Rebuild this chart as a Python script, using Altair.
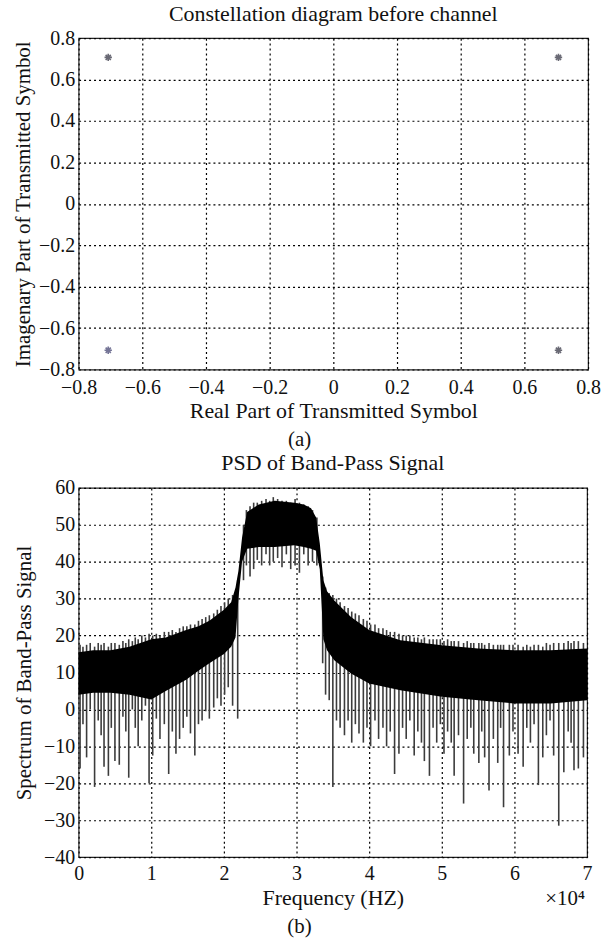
import altair as alt
import pandas as pd

SERIF = "Liberation Serif"

# ---------- (a) constellation ----------
real_part = [-0.707, 0.707, -0.707, 0.707]
imag_part = [0.707, 0.707, -0.707, -0.707]
pt_color = ["#2a2a3a", "#2a2a3a", "#3a3a6a", "#2a2a3a"]
ticks_a = [-0.8, -0.6, -0.4, -0.2, 0, 0.2, 0.4, 0.6, 0.8]

# ---------- (b) PSD (units of 10^4 Hz / dB) ----------
env_f = [0.00, 0.20, 0.44, 0.70, 1.00, 1.20, 1.48, 1.65, 1.80, 2.00, 2.10, 2.16, 2.20, 2.25, 2.32,
         2.48, 2.70, 2.97, 3.10, 3.20, 3.27, 3.32, 3.37, 3.42, 3.52, 3.75, 4.00, 4.43, 5.00, 5.50,
         6.00, 6.50, 7.00]
env_hi = [15.5, 16.0, 16.0, 17.0, 19.0, 19.5, 21.5, 22.5, 24.0, 27.0, 29.0, 33.0, 37.5, 46.5, 53.5,
          55.5, 56.5, 56.0, 55.5, 54.5, 52.0, 45.0, 35.0, 32.0, 29.5, 25.0, 21.5, 18.7, 17.4, 16.5,
          16.0, 16.0, 16.5]
env_lo = [4.0, 4.5, 4.5, 4.0, 2.7, 5.0, 8.0, 10.5, 12.5, 15.0, 17.0, 19.5, 30.0, 40.0, 43.5,
          44.0, 44.0, 44.5, 44.0, 43.5, 43.0, 38.0, 19.0, 16.0, 13.3, 9.7, 7.0, 5.2, 3.4, 2.5,
          1.6, 1.6, 2.5]

spike_f = [0.02, 0.06, 0.11, 0.16, 0.22, 0.27, 0.31, 0.35, 0.41, 0.45, 0.50, 0.56, 0.61, 0.65,
           0.69, 0.74, 0.78, 0.82, 0.87, 0.92, 0.97, 1.02, 1.07, 1.12, 1.18, 1.24, 1.29, 1.34,
           1.39, 1.44, 1.49, 1.54, 1.60, 1.65, 1.70, 1.75, 1.80, 1.86, 1.91, 1.96, 2.01, 2.06,
           2.12, 2.19,
           2.27, 2.31, 2.36, 2.41, 2.46, 2.52, 2.58, 2.63, 2.68, 2.74, 2.80, 2.86, 2.92, 2.98,
           3.04, 3.10, 3.16, 3.22, 3.28,
           3.36, 3.40, 3.45, 3.50, 3.55, 3.60, 3.66, 3.71, 3.76, 3.81, 3.86, 3.92, 3.97, 4.02,
           4.08, 4.13, 4.19, 4.24, 4.29, 4.35, 4.41, 4.46, 4.51, 4.56, 4.62, 4.67, 4.72, 4.76,
           4.83, 4.88, 4.93, 4.98, 5.03, 5.08, 5.13, 5.17, 5.23, 5.30, 5.35, 5.40, 5.44, 5.51,
           5.55, 5.59, 5.65, 5.71, 5.77, 5.81, 5.85, 5.93, 5.98, 6.05, 6.12, 6.17, 6.22, 6.27,
           6.33, 6.39, 6.44, 6.49, 6.54, 6.61, 6.68, 6.74, 6.78, 6.82, 6.88, 6.95]
spike_lo = [-16, -4, -13, 0, -21, -3, -7, -15.5, -18, -5, -14, -15, -2, -6,
            -18.5, 0, -5, -10, -3, 1, -20, -12.5, -2.5, -8, -4, -17.5, -6, -12,
            -8, -5, -2, -6.5, -12.5, -4, -3, -0.5, -2.5, 0.5, 3, 1, 4, 6,
            1, -2.5,
            35, 39, 36, 38, 40.5, 39, 42, 39, 40, 41, 38.5, 42, 38, 39,
            37, 42, 39, 40, 39,
            12.5, 4, 2.5, -21, -3, -5, -7, -3, -9, -4, -6.5, -9, -5, -10,
            -3, -8, -5, -10, -6, -17.5, -12, -5, -8, -3, -12.5, -6, -9, -14,
            -18, -5, -9, -4, -12, -6, -9, -18, -7, -25.5, -8, -5, -12, -14.5,
            -6, -13, -22, -8, -14.5, -5, -26.5, -12.5, -6, -12, -15.5, -5, -9, -4,
            -20.5, -13, -7, -3, -12.5, -31.5, -17, -6, -9, -16.5, -16, -13]
spike_hi = [17.5, 17, 17.5, 18, 17, 18, 17.5, 18, 17, 18, 18, 17.5, 18.5, 18,
            19, 18.5, 19.5, 19, 20, 19.5, 20.5, 20, 20.5, 20, 21, 21, 21.5, 21,
            22, 22.5, 22.5, 23, 23, 24, 24.5, 25, 25.5, 26, 27, 28, 29, 30,
            31, 35,
            50, 54, 55, 56, 56, 56.5, 57, 56.5, 57.5, 57, 56.5, 56.5, 56, 57,
            56, 55.5, 55, 54, 52,
            36, 33, 31.5, 31, 30, 29, 28, 27.5, 26.5, 26, 25.5, 24.5, 24, 23,
            23, 22, 22, 21.5, 21, 21, 20.5, 20, 20, 20, 19.5, 19.5, 19, 19.5,
            19, 19, 19, 19, 18.5, 19, 18.5, 18.5, 18.5, 18, 18.5, 18, 18, 18,
            18, 17.5, 18, 17.5, 17.5, 17.5, 17.5, 17.5, 17.5, 17.5, 17, 17.5, 17, 17.5,
            17.5, 17, 18, 17.5, 18, 18, 18, 18.5, 18, 18.5, 18.5, 18]
ticks_b_x = [0, 1, 2, 3, 4, 5, 6, 7]
ticks_b_y = [-40, -30, -20, -10, 0, 10, 20, 30, 40, 50, 60]

pts = pd.DataFrame({"re": real_part, "im": imag_part, "c": pt_color})
env = pd.DataFrame({"f": env_f, "lo": env_lo, "hi": env_hi})
spk = pd.DataFrame({"f": spike_f, "lo": spike_lo, "hi": spike_hi})

LAB = 20
TIT = 21
TIT_X = 22

def axis(title, values, label_expr, lpad, tpad, tsize):
    return alt.Axis(title=title, values=values, labelExpr=label_expr, grid=True,
                    gridColor="black", gridDash=[2, 3], gridWidth=1.2, gridOpacity=1,
                    ticks=False, domain=False, labelFont=SERIF, titleFont=SERIF,
                    labelFontSize=LAB, titleFontSize=tsize, titleFontWeight="normal",
                    labelColor="#111", titleColor="#111", labelPadding=lpad, titlePadding=tpad,
                    labelFlush=False, labelOverlap=False)

lab_a = "datum.value == 0 ? '0' : format(datum.value, '.1f')"

star = "M-1,0L1,0M0,-1L0,1M-0.7,-0.7L0.7,0.7M-0.7,0.7L0.7,-0.7"

WA = 512
WB = 511

base_a = alt.Chart(pts).mark_point(shape=star, size=55, strokeWidth=1.6, filled=False).encode(
    x=alt.X("re:Q", scale=alt.Scale(domain=[-0.8, 0.8], nice=False),
            axis=axis("Real Part of Transmitted Symbol", ticks_a, lab_a, 8, 3, TIT_X)),
    y=alt.Y("im:Q", scale=alt.Scale(domain=[-0.8, 0.8], nice=False),
            axis=axis("Imagenary Part of Transmitted Symbol", ticks_a, lab_a, 4, 5, TIT)),
    color=alt.Color("c:N", scale=None),
)
cap_a = alt.Chart(pd.DataFrame({"t": ["(a)"]})).mark_text(
    font=SERIF, fontSize=TIT, color="#111").encode(
    text="t:N", x=alt.value(222), y=alt.value(404))
panel_a = alt.layer(base_a, cap_a).properties(
    width=WA, height=333,
    title=alt.TitleParams("Constellation diagram before channel", font=SERIF, fontSize=TIT_X,
                          fontWeight="normal", color="#111", offset=2))

xb = alt.X("f:Q", scale=alt.Scale(domain=[0, 7], nice=False),
           axis=axis("Frequency (HZ)", ticks_b_x, "format(datum.value, 'd')", 7, 4, TIT_X))
yb = alt.Y("lo:Q", scale=alt.Scale(domain=[-40, 60], nice=False),
           axis=axis("Spectrum of Band-Pass Signal", ticks_b_y, "format(datum.value, 'd')", 4, 9, TIT))

spikes = alt.Chart(spk).mark_rule(color="#3c3c3c", strokeWidth=1.6).encode(
    x=xb, y=yb, y2="hi:Q")
band = alt.Chart(env).mark_area(color="black", opacity=1).encode(x=xb, y=yb, y2="hi:Q")
exp_txt = alt.Chart(pd.DataFrame({"t": ["\u00d710\u2074"]})).mark_text(
    font=SERIF, fontSize=TIT, color="#111").encode(
    text="t:N", x=alt.value(489), y=alt.value(413))
cap_b = alt.Chart(pd.DataFrame({"t": ["(b)"]})).mark_text(
    font=SERIF, fontSize=TIT, color="#111").encode(
    text="t:N", x=alt.value(222), y=alt.value(441))
panel_b = alt.layer(spikes, band, exp_txt, cap_b).properties(
    width=WB, height=371,
    title=alt.TitleParams("PSD of Band-Pass Signal", font=SERIF, fontSize=TIT_X,
                          fontWeight="normal", color="#111", offset=3))

chart = alt.vconcat(panel_a, panel_b, spacing=0).properties(
    padding={"left": 12, "top": 0, "right": 0, "bottom": 0},
    background="white",
).configure_view(stroke="#222", strokeWidth=1.2)

chart.save("out.html", embed_options={"renderer": "svg", "actions": False})
